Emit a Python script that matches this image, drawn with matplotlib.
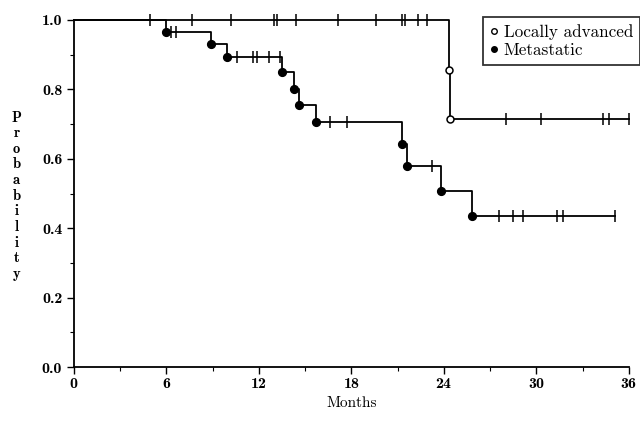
import numpy as np
import matplotlib.pyplot as plt
from matplotlib.lines import Line2D
from matplotlib.ticker import MultipleLocator, FormatStrFormatter

plt.rcParams['font.family'] = ['cmr10', 'DejaVu Serif']
plt.rcParams['axes.formatter.use_mathtext'] = True

# Locally advanced: step times / survival after each event
la_times = [0, 24.3, 24.4]
la_surv = [1.0, 0.857, 0.714]
la_end = 36.0
la_cens_t = [4.93, 7.65, 10.18, 13.0, 13.15, 14.4, 17.1, 19.6, 21.3, 21.5, 22.3, 22.9,
             28.0, 30.3, 34.3, 34.7, 36.0]

# Metastatic
me_times = [0, 6.0, 8.9, 9.9, 13.5, 14.3, 14.6, 15.7, 21.3, 21.6, 23.8, 25.8]
me_surv = [1.0, 0.966, 0.930, 0.893, 0.850, 0.802, 0.754, 0.706, 0.642, 0.580, 0.507, 0.435]
me_end = 35.1
me_cens_t = [6.3, 6.6, 10.6, 11.6, 11.85, 12.67, 13.36, 16.6, 17.7, 23.2,
             27.6, 28.5, 29.1, 31.3, 31.7, 35.1]


def surv_at(times, surv, t):
    idx = np.searchsorted(times, t, side='right') - 1
    return np.array(surv)[idx]


fig = plt.figure(figsize=(6.4, 4.21), dpi=100)
ax = fig.add_axes([0.1156, 0.128, 0.8672, 0.8245])

for times, surv, end, cens, fc in [(la_times, la_surv, la_end, la_cens_t, 'white'),
                                   (me_times, me_surv, me_end, me_cens_t, 'black')]:
    ax.step(times + [end], surv + [surv[-1]], where='post', color='black', lw=1.3, clip_on=False)
    ax.plot(times[1:], surv[1:], 'o', ms=5.5 if fc == 'black' else 5, mfc=fc, mec='black',
            mew=1.1, clip_on=False, zorder=3)
    ax.plot(cens, surv_at(times, surv, cens), '|', color='black', ms=8, mew=1.1, clip_on=False)

ax.set_xlim(0, 36)
ax.set_ylim(0, 1.0)
ax.spines['top'].set_visible(False)
ax.spines['right'].set_visible(False)
ax.spines['left'].set_linewidth(1.3)
ax.spines['bottom'].set_linewidth(1.3)

ax.xaxis.set_major_locator(MultipleLocator(6))
ax.xaxis.set_minor_locator(MultipleLocator(3))
ax.yaxis.set_major_locator(MultipleLocator(0.2))
ax.yaxis.set_minor_locator(MultipleLocator(0.1))
ax.yaxis.set_major_formatter(FormatStrFormatter('%.1f'))
ax.tick_params(axis='both', which='major', length=5, width=1.0, direction='out')
ax.tick_params(axis='x', which='major', pad=2)
ax.tick_params(axis='both', which='minor', length=3, width=0.8, direction='out')
for lab in ax.get_xticklabels() + ax.get_yticklabels():
    lab.set_family(['cmb10', 'DejaVu Serif'])
    lab.set_fontsize(11.5)

ax.set_xlabel('Months', fontsize=11, labelpad=4)
fig.text(0.026, 0.535, '\n'.join('Probability'), ha='center', va='center',
         fontsize=10.5, linespacing=1.15, family=['cmb10', 'DejaVu Serif'])

handles = [Line2D([], [], ls='none', marker='o', ms=4, mfc='white', mec='black'),
           Line2D([], [], ls='none', marker='o', ms=4, mfc='black', mec='black')]
leg = fig.legend(handles, ['Locally advanced', 'Metastatic'], loc='upper left',
                 bbox_to_anchor=(483 / 640, 1 - 17 / 421), fontsize=12.3, frameon=True,
                 fancybox=False, handlelength=0.5, handletextpad=0.3, borderpad=0.4,
                 labelspacing=0.2, borderaxespad=0)
leg.get_frame().set_edgecolor('black')
leg.get_frame().set_linewidth(1.3)

fig.savefig('out.png', dpi=100)
